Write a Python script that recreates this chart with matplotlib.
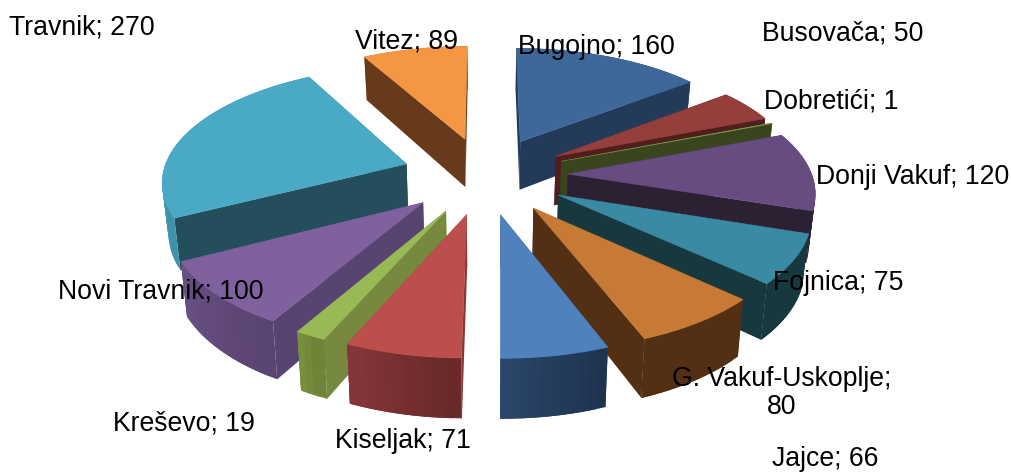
import numpy as np
import matplotlib.pyplot as plt
from matplotlib.patches import Polygon
from matplotlib.colors import to_rgb

plt.rcParams['font.family'] = ['Liberation Sans', 'DejaVu Sans']

# Slice data, clockwise from 12 o'clock
names = ['Bugojno', 'Busovača', 'Dobretići', 'Donji Vakuf', 'Fojnica', 'G. Vakuf-Uskoplje',
         'Jajce', 'Kiseljak', 'Kreševo', 'Novi Travnik', 'Travnik', 'Vitez']
values = [160, 50, 1, 120, 75, 80, 66, 71, 19, 100, 270, 89]

# Colours: top face, radial walls, outer wall (start and end of the arc)
top_colors = ['#3D6899', '#953F3C', '#7D9744', '#664C80', '#3A8AA3', '#C67A35',
              '#4F81BD', '#BC4F4C', '#98B956', '#7F619D', '#4AA9C4', '#F59644']
wall_colors = ['#233A59', '#4F1E1D', '#38451F', '#2C2033', '#17383F', '#532F14',
               '#2A4668', '#87363A', '#76893F', '#584470', '#244E5B', '#663A1A']
outer_start = ['#2F5075', '#6B2A2A', '#5F7530', '#4D3B62', '#17383F', '#532F14',
               '#1F3350', '#6B2A2A', '#6F8339', '#5A4472', '#3E92AA', '#B5702F']
outer_end = ['#2F5075', '#6B2A2A', '#5F7530', '#2C2033', '#17383F', '#532F14',
             '#2A4668', '#87363A', '#80953F', '#6A5085', '#48A0B8', '#B5702F']

# Label centres in pixels
label_xy = [(596, 47), (843, 34), (831, 101), (913, 177), (838, 283), (782, 393),
            (825, 459), (403, 441), (184, 424), (161, 292), (82, 28), (407, 41)]

# Projection settings
cx, cy = 485, 175
A, B = 244, 113.5
persp = 0.13
depth = 50
taper = 0.02
explode = 0.34


def project(X, Z, h):
    s = 1 / (1 + persp * Z)
    x = cx + A * X * s * (1 - taper * h)
    y = cy - B * Z * s + depth * h * s
    return x, y


def mix(c1, c2, t):
    return tuple((1 - t) * a + t * b for a, b in zip(to_rgb(c1), to_rgb(c2)))


fig = plt.figure(figsize=(10.12, 4.72), dpi=100)
ax = fig.add_axes([0, 0, 1, 1])
ax.set_xlim(0, 1012)
ax.set_ylim(472, 0)
ax.axis('off')

angles = np.cumsum([0] + values) / sum(values) * 2 * np.pi
mids = (angles[:-1] + angles[1:]) / 2

# rear slices first
order = np.argsort(-np.cos(mids))
z = 1
for i in order:
    t0, t1, m = angles[i], angles[i + 1], mids[i]
    ox, oz = explode * np.sin(m), explode * np.cos(m)
    n = max(3, int(np.degrees(t1 - t0) / 2) + 2)
    th = np.linspace(t0, t1, n)
    arc_x = ox + np.sin(th)
    arc_z = oz + np.cos(th)

    faces = []
    # radial walls
    for px, pz in [(arc_x[0], arc_z[0]), (arc_x[-1], arc_z[-1])]:
        quad = [project(ox, oz, 0), project(px, pz, 0), project(px, pz, 1), project(ox, oz, 1)]
        faces.append(((oz + pz) / 2, quad, wall_colors[i]))
    # outer wall in small pieces, each one running under the next so no seams show
    for j in range(n - 1):
        k = min(j + 2, n - 1)
        quad = [project(arc_x[j], arc_z[j], 0), project(arc_x[k], arc_z[k], 0),
                project(arc_x[k], arc_z[k], 1), project(arc_x[j], arc_z[j], 1)]
        col = mix(outer_start[i], outer_end[i], j / max(1, n - 2))
        faces.append(((arc_z[j] + arc_z[j + 1]) / 2, quad, col))

    faces.sort(key=lambda f: -f[0])
    for _, quad, col in faces:
        ax.add_patch(Polygon(quad, closed=True, facecolor=col, edgecolor='none', zorder=z))
        z += 1

    top = [project(ox, oz, 0)] + [project(a, b, 0) for a, b in zip(arc_x, arc_z)]
    ax.add_patch(Polygon(top, closed=True, facecolor=top_colors[i], edgecolor=top_colors[i],
                         linewidth=0.4, zorder=z))
    z += 1

for name, val, (x, y) in zip(names, values, label_xy):
    sep = '\n' if name.startswith('G.') else ' '
    ax.text(x, y, f'{name};{sep}{val}', fontsize=19.2, color='black', ha='center', va='center',
            linespacing=1.15, zorder=z)

fig.savefig('out.png', dpi=100)
